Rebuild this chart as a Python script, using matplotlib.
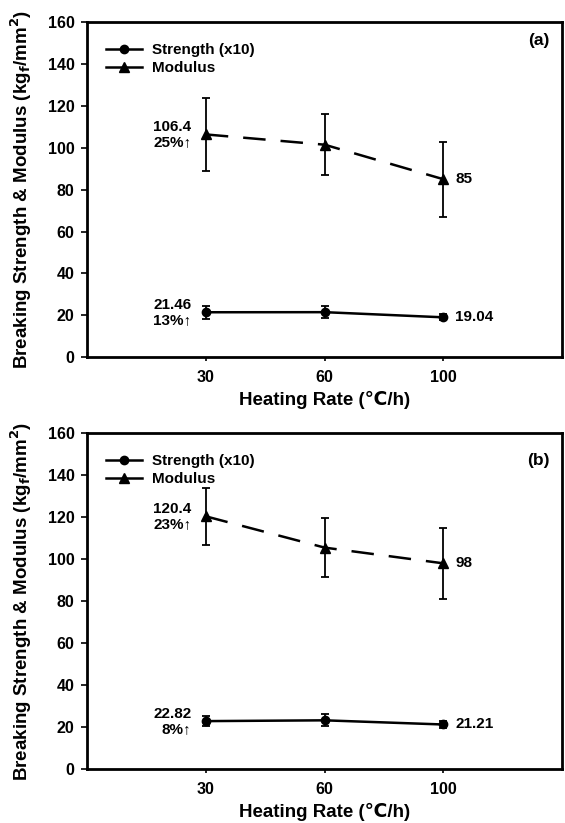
import matplotlib
matplotlib.use("Agg")
import matplotlib.pyplot as plt
from matplotlib.lines import Line2D

plt.rcParams['font.family'] = ['Liberation Sans', 'DejaVu Sans']
plt.rcParams['font.weight'] = 'bold'

rates = ["30", "60", "100"]
pos = [1, 2, 3]

# panel (a)
mod_a = [106.4, 101.5, 85]
mod_a_err = [17.5, 14.5, 18]
str_a = [21.46, 21.5, 19.04]
str_a_err = [3.0, 3.0, 1.5]

# panel (b)
mod_b = [120.4, 105.5, 98]
mod_b_err = [13.5, 14, 17]
str_b = [22.82, 23.2, 21.21]
str_b_err = [2.5, 2.8, 1.5]

notes_a = ["106.4\n25%\u2191", "85", "21.46\n13%\u2191", "19.04"]
notes_b = ["120.4\n23%\u2191", "98", "22.82\n8%\u2191", "21.21"]


def panel(ax, mod, mod_err, st, st_err, notes, tag, tag_y):
    ax.errorbar(pos, mod, yerr=mod_err, color='black', marker='^', ms=7,
                lw=1.8, ls=(0, (9, 6)), capsize=3, elinewidth=1.3, capthick=1.3)
    ax.errorbar(pos, st, yerr=st_err, color='black', marker='o', ms=6,
                lw=1.8, capsize=3, elinewidth=1.3, capthick=1.3)
    ax.set_xlim(0, 4)
    ax.set_ylim(0, 160)
    ax.set_xticks(pos)
    ax.set_xticklabels(rates)
    ax.set_yticks(range(0, 161, 20))
    ax.tick_params(axis='both', labelsize=11.5, width=1.2)
    ax.tick_params(axis='y', length=4, pad=5)
    ax.tick_params(axis='x', length=3, pad=6)
    for s in ax.spines.values():
        s.set_linewidth(2)
    ax.set_ylabel("Breaking Strength & Modulus (kg$_\\mathbf{f}$/mm$^\\mathbf{2}$)",
                  fontsize=13.5, fontweight='bold')
    ax.yaxis.set_label_coords(-0.112, 0.5)
    ax.set_xlabel("Heating Rate (\u2103/h)", fontsize=13.5, fontweight='bold')
    ax.xaxis.set_label_coords(0.5, -0.1)

    ax.text(0.88, mod[0], notes[0], ha='right', va='center', fontsize=11,
            fontweight='bold', linespacing=1.1)
    ax.text(3.1, mod[2], notes[1], ha='left', va='center', fontsize=11,
            fontweight='bold')
    ax.text(0.88, st[0], notes[2], ha='right', va='center', fontsize=11,
            fontweight='bold', linespacing=1.1)
    ax.text(3.1, st[2], notes[3], ha='left', va='center', fontsize=11,
            fontweight='bold')
    ax.text(0.95, tag_y, tag, transform=ax.transAxes, ha='center', va='center',
            fontsize=12.5, fontweight='bold')

    handles = [Line2D([], [], color='black', marker='o', ms=6, lw=1.8),
               Line2D([], [], color='black', marker='^', ms=7, lw=1.8)]
    ax.legend(handles, ["Strength (x10)", "Modulus"], loc='upper left',
              bbox_to_anchor=(0.02, 0.965), frameon=False,
              handlelength=2.4, handletextpad=0.6, labelspacing=0.25,
              borderaxespad=0.2, prop={'weight': 'bold', 'size': 11})


fig = plt.figure(figsize=(5.65, 8.23), dpi=100)
ax1 = fig.add_axes([0.154, 0.566, 0.841, 0.407])
ax2 = fig.add_axes([0.154, 0.0656, 0.841, 0.408])
panel(ax1, mod_a, mod_a_err, str_a, str_a_err, notes_a, "(a)", 0.945)
panel(ax2, mod_b, mod_b_err, str_b, str_b_err, notes_b, "(b)", 0.92)

fig.savefig("out.png", dpi=100)
